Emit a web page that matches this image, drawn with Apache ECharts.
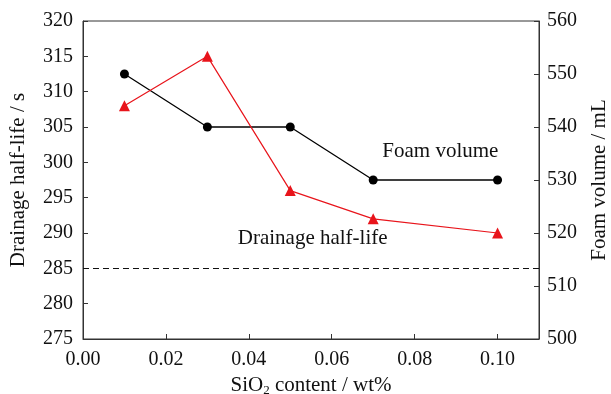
<!DOCTYPE html>
<html>
<head>
<meta charset="utf-8">
<script src="https://cdn.jsdelivr.net/npm/echarts@6/dist/echarts.min.js"></script>
<style>html,body{margin:0;padding:0;background:#fff;}#c{width:611px;height:394px;}</style>
</head>
<body>
<div id="c"></div>
<script>
const sio2 = [0.01, 0.03, 0.05, 0.07, 0.10];
const foamVolume = [550, 540, 540, 530, 530];
const drainageHalfLife = [308, 315, 296, 292, 290];
const referenceLine = 285;
const foamLabel = {text: 'Foam volume', x: 0.0862, y: 301.6};
const drainLabel = {text: 'Drainage half-life', x: 0.0554, y: 289.2};

const FONT = '"Liberation Serif", "Times New Roman", serif';
const AX = '#333';
const chart = echarts.init(document.getElementById('c'));
const axisCommon = {
  axisLine: {show: true, lineStyle: {color: AX, width: 1}},
  axisTick: {show: true, inside: true, length: 5, lineStyle: {color: AX}},
  splitLine: {show: false},
  axisLabel: {color: '#111', fontFamily: FONT, fontSize: 20},
  nameTextStyle: {color: '#111', fontFamily: FONT, fontSize: 21},
};
const annot = (a) => ({
  symbol: 'circle', symbolSize: 1, silent: true,
  itemStyle: {color: 'rgba(0,0,0,0)'},
  data: [{coord: [a.x, a.y]}],
  label: {show: true, formatter: a.text, color: '#111', fontFamily: FONT, fontSize: 21, position: 'inside'}
});
chart.setOption({
  animation: false,
  grid: {left: 83, right: 72, top: 21, bottom: 55, show: true, borderColor: AX, borderWidth: 1,
    containLabel: false, outerBoundsMode: 'none'},
  xAxis: Object.assign({}, axisCommon, {
    type: 'value', min: 0, max: 0.11, interval: 0.02,
    name: 'SiO{sub|2} content / wt%', nameLocation: 'middle', nameGap: 34,
    nameTextStyle: {color: '#111', fontFamily: FONT, fontSize: 21,
      rich: {sub: {fontFamily: FONT, fontSize: 13, verticalAlign: 'bottom', padding: [11, 0, 0, 0], color: '#111'}}},
    axisLabel: {color: '#111', fontFamily: FONT, fontSize: 20, margin: 11, showMaxLabel: false,
      formatter: v => v.toFixed(2)}
  }),
  yAxis: [
    Object.assign({}, axisCommon, {
      type: 'value', min: 275, max: 320, interval: 5, position: 'left',
      name: 'Drainage half-life / s', nameLocation: 'middle', nameGap: 54, nameRotate: 90,
      axisLabel: {color: '#111', fontFamily: FONT, fontSize: 20, margin: 10}
    }),
    Object.assign({}, axisCommon, {
      type: 'value', min: 500, max: 560, interval: 10, position: 'right',
      name: 'Foam volume / mL', nameLocation: 'middle', nameGap: 50, nameRotate: 90,
      axisLabel: {color: '#111', fontFamily: FONT, fontSize: 20, margin: 8}
    })
  ],
  series: [
    {
      name: 'Foam volume', type: 'line', yAxisIndex: 1,
      data: sio2.map((x, i) => [x, foamVolume[i]]),
      symbol: 'circle', symbolSize: 9,
      lineStyle: {color: '#000', width: 1.3}, itemStyle: {color: '#000'}
    },
    {
      name: 'Drainage half-life', type: 'line', yAxisIndex: 0,
      data: sio2.map((x, i) => [x, drainageHalfLife[i]]),
      symbol: 'triangle', symbolSize: 11,
      lineStyle: {color: '#e8141b', width: 1.2}, itemStyle: {color: '#e8141b'},
      markLine: {
        symbol: 'none', silent: true, label: {show: false},
        lineStyle: {color: '#111', type: [6, 4], width: 1.2},
        data: [[{coord: [0, referenceLine]}, {coord: [0.11, referenceLine]}]]
      }
    },
    {
      name: 'annotFoam', type: 'scatter', yAxisIndex: 0, data: [], markPoint: annot(foamLabel)
    },
    {
      name: 'annotDrain', type: 'scatter', yAxisIndex: 0, data: [], markPoint: annot(drainLabel)
    }
  ]
});
</script>
</body>
</html>
